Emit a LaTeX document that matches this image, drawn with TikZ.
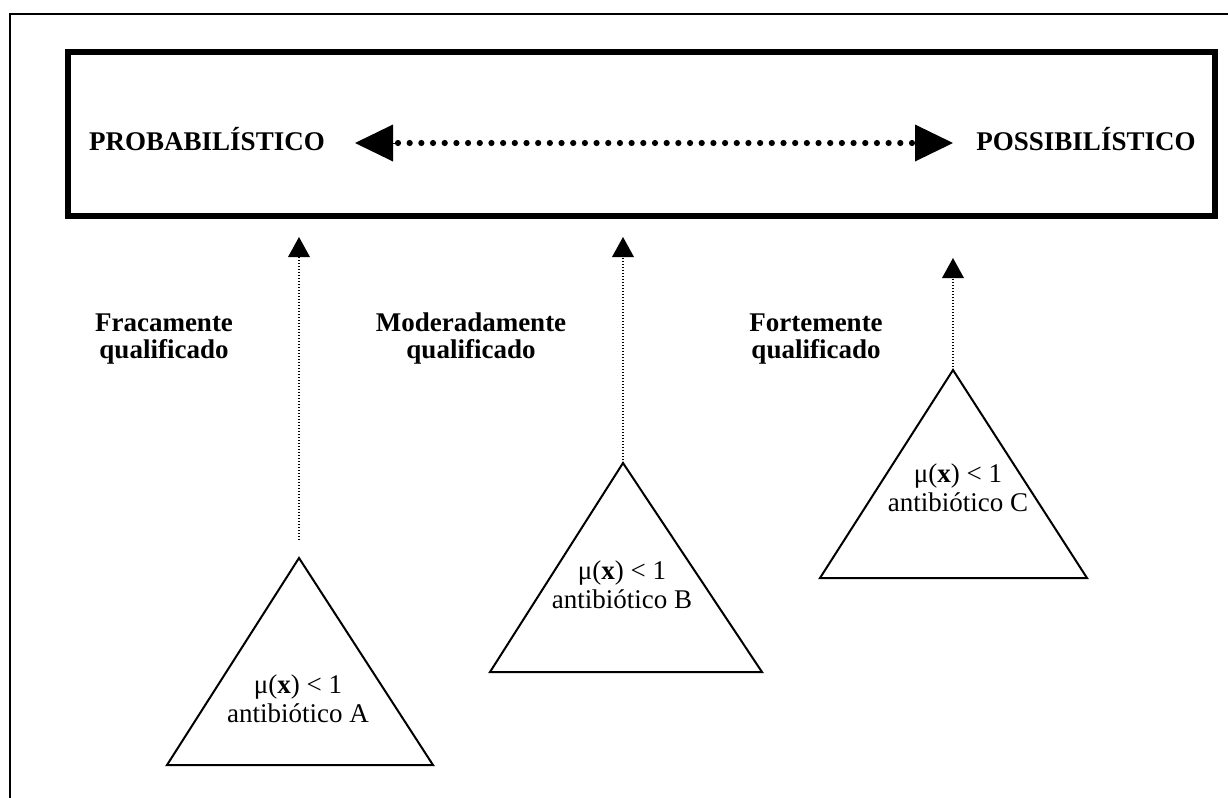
\documentclass[tikz,border=0pt]{standalone}
\usepackage{fontspec}
\setmainfont{Liberation Serif}
\usetikzlibrary{arrows.meta,calc}
\tikzset{
  frameline/.style={line width=1pt},
  bigbox/.style={draw, line width=3pt, inner sep=0pt, minimum width=573.5pt, minimum height=82pt},
  title/.style={font=\fontsize{13.5}{15}\selectfont\bfseries, inner sep=0pt},
  qlabel/.style={font=\fontsize{13.5}{13.5}\selectfont\bfseries, align=center, inner sep=0pt},
  trilabel/.style={font=\fontsize{13.5}{14.5}\selectfont, align=center, inner sep=0pt},
  tri/.style={draw, line width=1pt, line join=miter},
  bigdot/.style={fill=black},
  bighead/.style={-{Triangle[length=19pt,width=18.5pt,line width=0pt]}, line width=0.1pt},
  vdots/.style={line width=0.7pt, dash pattern=on 0.7pt off 0.8pt,
    -{Triangle[length=10pt,width=11pt,line width=0pt]}}
}
\begin{document}
\begin{tikzpicture}[x=0.5pt,y=-0.5pt]
\useasboundingbox (0,0) rectangle (1228,798);
% outer frame (only left and top edges visible)
\draw[frameline] (10,798) -- (10,14) -- (1228,14);
% top box
\node[bigbox] (box) at (641.5,134) {};
\node[title] (prob) at (207,139) {PROBABILÍSTICO};
\node[title] (poss) at (1086,139) {POSSIBILÍSTICO};
\coordinate (hL) at (355,143);
\coordinate (hR) at (953,143);
\coordinate (dL) at (398,143);
\coordinate (dR) at (912,143);
\foreach \i in {0,...,44} \fill[bigdot] ($(dL)!\i/44!(dR)$) circle (3.1);
\draw[bighead] (dL) -- (hL);
\draw[bighead] (dR) -- (hR);
% qualification labels
\node[qlabel] (fraca) at (164,339) {Fracamente\\qualificado};
\node[qlabel] (moder) at (471,339) {Moderadamente\\qualificado};
\node[qlabel] (forte) at (816,339) {Fortemente\\qualificado};
% triangles
\coordinate (apA) at (299,558);
\coordinate (apB) at (623,463);
\coordinate (apC) at (953,370);
\draw[tri] (apA) -- (433,765) -- (167,765) -- cycle;
\draw[tri] (apB) -- (762,672) -- (490,672) -- cycle;
\draw[tri] (apC) -- (1087,578) -- (820,578) -- cycle;
\node[trilabel] (txtA) at (298,699) {μ(\textbf{x}) < 1\\antibiótico A};
\node[trilabel] (txtB) at (622,585) {μ(\textbf{x}) < 1\\antibiótico B};
\node[trilabel] (txtC) at (958,488) {μ(\textbf{x}) < 1\\antibiótico C};
% vertical arrows
\coordinate (sA) at (299,540);
\coordinate (tA) at (299,237);
\coordinate (tB) at (623,237);
\coordinate (tC) at (953,258);
\draw[vdots] (sA) -- (tA);
\draw[vdots] (apB) -- (tB);
\draw[vdots] (apC) -- (tC);
\end{tikzpicture}
\end{document}
